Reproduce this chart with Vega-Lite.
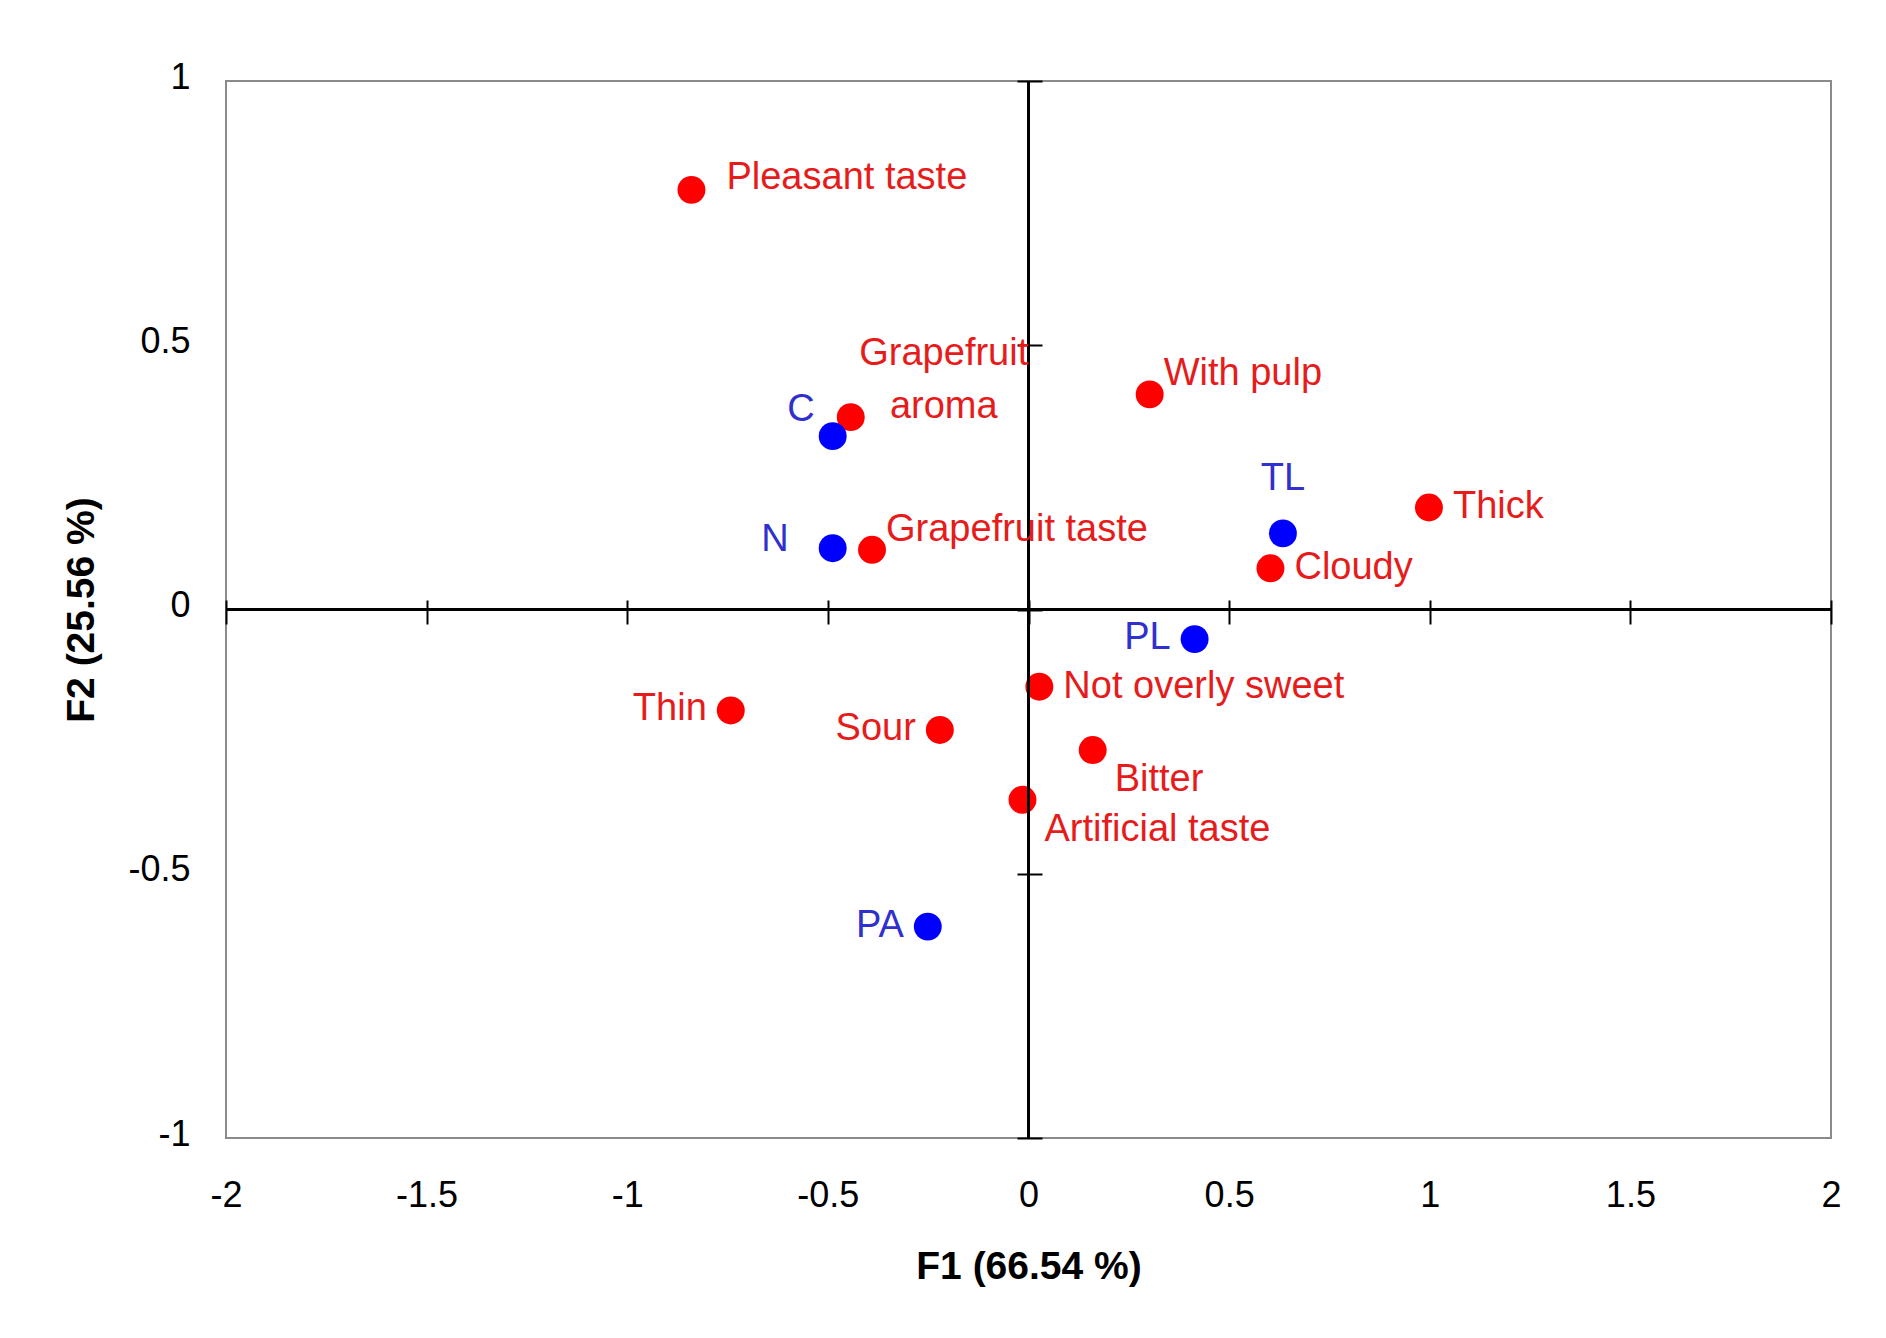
{
  "$schema": "https://vega.github.io/schema/vega-lite/v6.json",
  "width": 1605,
  "height": 1057,
  "autosize": {"type": "none"},
  "padding": {"left": 226, "top": 81, "right": 55, "bottom": 200},
  "background": "white",
  "config": {
    "view": {"stroke": "#8a8a8a", "strokeWidth": 2},
    "font": "Liberation Sans"
  },
  "data": {
    "values": [
      {"label": "Pleasant taste", "group": "attribute", "x": -0.84, "y": 0.794, "pos": "r_hi"},
      {"label": "Grapefruit\naroma", "group": "attribute", "x": -0.443, "y": 0.364, "pos": "c2"},
      {"label": "C", "group": "product", "x": -0.488, "y": 0.328, "pos": "ul"},
      {"label": "N", "group": "product", "x": -0.488, "y": 0.116, "pos": "l_far"},
      {"label": "Grapefruit taste", "group": "attribute", "x": -0.39, "y": 0.113, "pos": "ur"},
      {"label": "With pulp", "group": "attribute", "x": 0.302, "y": 0.407, "pos": "ur"},
      {"label": "TL", "group": "product", "x": 0.634, "y": 0.144, "pos": "u"},
      {"label": "Thick", "group": "attribute", "x": 0.998, "y": 0.193, "pos": "r"},
      {"label": "Cloudy", "group": "attribute", "x": 0.603, "y": 0.078, "pos": "r"},
      {"label": "PL", "group": "product", "x": 0.414, "y": -0.056, "pos": "l"},
      {"label": "Not overly sweet", "group": "attribute", "x": 0.027, "y": -0.146, "pos": "r"},
      {"label": "Thin", "group": "attribute", "x": -0.742, "y": -0.191, "pos": "l"},
      {"label": "Sour", "group": "attribute", "x": -0.221, "y": -0.228, "pos": "l"},
      {"label": "Bitter", "group": "attribute", "x": 0.16, "y": -0.266, "pos": "dr"},
      {"label": "Artificial taste", "group": "attribute", "x": -0.015, "y": -0.36, "pos": "dr"},
      {"label": "PA", "group": "product", "x": -0.251, "y": -0.6, "pos": "l"}
    ]
  },
  "resolve": {"axis": {"x": "independent", "y": "independent"}},
  "layer": [
    {
      "mark": {"type": "circle", "size": 780, "opacity": 1},
      "encoding": {
        "x": {
          "field": "x", "type": "quantitative",
          "scale": {"domain": [-2, 2], "nice": false, "zero": false},
          "axis": {"orient": "bottom", "title": "F1 (66.54 %)", "values": [-2, -1.5, -1, -0.5, 0, 0.5, 1, 1.5, 2], "labelExpr": "(datum.value < 0 ? '-' : '') + format(abs(datum.value), '~g')", "labelFlush": false, "labelOverlap": false, "ticks": false, "domain": false, "grid": false, "labelPadding": 40, "labelFontSize": 36, "labelColor": "black", "labelFont": "Liberation Sans", "titleFont": "Liberation Sans", "titleFontSize": 39, "titleFontWeight": "bold", "titleColor": "black", "titlePadding": 34}
        },
        "y": {
          "field": "y", "type": "quantitative",
          "scale": {"domain": [-1, 1], "nice": false, "zero": false},
          "axis": {"orient": "left", "title": "F2 (25.56 %)", "values": [-1, -0.5, 0, 0.5, 1], "labelExpr": "(datum.value < 0 ? '-' : '') + format(abs(datum.value), '~g')", "labelFlush": false, "labelOverlap": false, "ticks": false, "domain": false, "grid": false, "labelPadding": 36, "labelFontSize": 36, "labelColor": "black", "labelFont": "Liberation Sans", "labelOffset": -4, "titleFont": "Liberation Sans", "titleFontSize": 39, "titleFontWeight": "bold", "titleColor": "black", "titlePadding": 26}
        },
        "color": {
          "field": "group", "type": "nominal",
          "scale": {"domain": ["attribute", "product"], "range": ["#ff0000", "#0000ff"]},
          "legend": null
        }
      }
    },
    {
      "mark": {"type": "rule", "color": "black", "strokeWidth": 2},
      "encoding": {
        "x": {
          "datum": 0, "type": "quantitative",
          "axis": {"orient": "bottom", "offset": -538, "values": [-2, -1.5, -1, -0.5, 0, 0.5, 1, 1.5, 2], "labels": false, "domain": false, "grid": false, "ticks": true, "tickSize": 24, "tickColor": "black", "tickWidth": 2, "title": null}
        }
      }
    },
    {
      "mark": {"type": "rule", "color": "black", "strokeWidth": 2},
      "encoding": {
        "y": {
          "datum": 0, "type": "quantitative",
          "axis": {"orient": "left", "offset": -816, "values": [-1, -0.5, 0, 0.5, 1], "labels": false, "domain": false, "grid": false, "ticks": true, "tickSize": 25, "tickColor": "black", "tickWidth": 2, "title": null}
        }
      }
    },
    {
      "transform": [{"filter": "datum.pos === 'r'"}],
      "mark": {"type": "text", "fontSize": 38, "align": "left", "baseline": "middle", "dx": 24, "dy": 0},
      "encoding": {
        "x": {"field": "x", "type": "quantitative", "axis": null},
        "y": {"field": "y", "type": "quantitative", "axis": null},
        "text": {"field": "label"},
        "color": {"condition": {"test": "datum.group === 'product'", "value": "#3030cc"}, "value": "#e61c1c"}
      }
    },
    {
      "transform": [{"filter": "datum.pos === 'r_hi'"}],
      "mark": {"type": "text", "fontSize": 38, "align": "left", "baseline": "middle", "dx": 35, "dy": -12},
      "encoding": {
        "x": {"field": "x", "type": "quantitative", "axis": null},
        "y": {"field": "y", "type": "quantitative", "axis": null},
        "text": {"field": "label"},
        "color": {"condition": {"test": "datum.group === 'product'", "value": "#3030cc"}, "value": "#e61c1c"}
      }
    },
    {
      "transform": [{"filter": "datum.pos === 'ur'"}],
      "mark": {"type": "text", "fontSize": 38, "align": "left", "baseline": "middle", "dx": 14, "dy": -20},
      "encoding": {
        "x": {"field": "x", "type": "quantitative", "axis": null},
        "y": {"field": "y", "type": "quantitative", "axis": null},
        "text": {"field": "label"},
        "color": {"condition": {"test": "datum.group === 'product'", "value": "#3030cc"}, "value": "#e61c1c"}
      }
    },
    {
      "transform": [{"filter": "datum.pos === 'dr'"}],
      "mark": {"type": "text", "fontSize": 38, "align": "left", "baseline": "middle", "dx": 22, "dy": 30},
      "encoding": {
        "x": {"field": "x", "type": "quantitative", "axis": null},
        "y": {"field": "y", "type": "quantitative", "axis": null},
        "text": {"field": "label"},
        "color": {"condition": {"test": "datum.group === 'product'", "value": "#3030cc"}, "value": "#e61c1c"}
      }
    },
    {
      "transform": [{"filter": "datum.pos === 'l'"}],
      "mark": {"type": "text", "fontSize": 38, "align": "right", "baseline": "middle", "dx": -24, "dy": -1},
      "encoding": {
        "x": {"field": "x", "type": "quantitative", "axis": null},
        "y": {"field": "y", "type": "quantitative", "axis": null},
        "text": {"field": "label"},
        "color": {"condition": {"test": "datum.group === 'product'", "value": "#3030cc"}, "value": "#e61c1c"}
      }
    },
    {
      "transform": [{"filter": "datum.pos === 'l_far'"}],
      "mark": {"type": "text", "fontSize": 38, "align": "right", "baseline": "middle", "dx": -44, "dy": -8},
      "encoding": {
        "x": {"field": "x", "type": "quantitative", "axis": null},
        "y": {"field": "y", "type": "quantitative", "axis": null},
        "text": {"field": "label"},
        "color": {"condition": {"test": "datum.group === 'product'", "value": "#3030cc"}, "value": "#e61c1c"}
      }
    },
    {
      "transform": [{"filter": "datum.pos === 'ul'"}],
      "mark": {"type": "text", "fontSize": 38, "align": "right", "baseline": "middle", "dx": -18, "dy": -26},
      "encoding": {
        "x": {"field": "x", "type": "quantitative", "axis": null},
        "y": {"field": "y", "type": "quantitative", "axis": null},
        "text": {"field": "label"},
        "color": {"condition": {"test": "datum.group === 'product'", "value": "#3030cc"}, "value": "#e61c1c"}
      }
    },
    {
      "transform": [{"filter": "datum.pos === 'u'"}],
      "mark": {"type": "text", "fontSize": 38, "align": "center", "baseline": "middle", "dx": 0, "dy": -54},
      "encoding": {
        "x": {"field": "x", "type": "quantitative", "axis": null},
        "y": {"field": "y", "type": "quantitative", "axis": null},
        "text": {"field": "label"},
        "color": {"condition": {"test": "datum.group === 'product'", "value": "#3030cc"}, "value": "#e61c1c"}
      }
    },
    {
      "transform": [{"filter": "datum.pos === 'c2'"}],
      "mark": {"type": "text", "fontSize": 38, "align": "center", "baseline": "middle", "dx": 93, "dy": -63, "lineBreak": "\n", "lineHeight": 53},
      "encoding": {
        "x": {"field": "x", "type": "quantitative", "axis": null},
        "y": {"field": "y", "type": "quantitative", "axis": null},
        "text": {"field": "label"},
        "color": {"condition": {"test": "datum.group === 'product'", "value": "#3030cc"}, "value": "#e61c1c"}
      }
    }
  ]
}
